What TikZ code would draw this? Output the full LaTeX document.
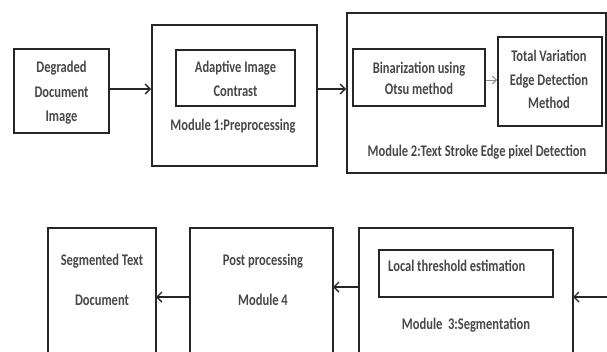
\documentclass[tikz,border=0pt]{standalone}
\usepackage{fontspec}
\usepackage{graphicx}
\setmainfont{Carlito}
\usetikzlibrary{arrows.meta}
\newcommand\vtx[2]{\scalebox{1}[1.3]{\fontsize{12.5}{#1}\selectfont\begin{tabular}{@{}c@{}}#2\end{tabular}}}
\begin{document}
\begin{tikzpicture}[x=1pt,y=-1pt,
  box/.style={draw=black!85,line width=1.8pt},
  lbl/.style={font=\bfseries,text=black!72,align=center,inner sep=0pt},
  arr/.style={draw=black!85,line width=1.4pt,-{Straight Barb[length=5pt,width=10pt,line width=1.4pt]}},
  garr/.style={draw=black!45,line width=1pt,-{Straight Barb[length=4pt,width=8pt]}}]
\useasboundingbox (0,0) rectangle (607,351);
% top row
\node[box,minimum width=95pt,minimum height=84pt,inner sep=0pt] (deg) at (61.5,91) {};
\node[lbl] at (61.5,92.5) {\vtx{18.8}{Degraded\\Document\\Image}};
\node[box,minimum width=165pt,minimum height=141pt] (m1) at (234.5,95.5) {};
\node[box,minimum width=119pt,minimum height=56pt] (aic) at (235.5,78) {};
\node[lbl] at (235.5,80) {\vtx{18.5}{Adaptive Image\\Contrast}};
\node[lbl] (m1l) at (233,127) {\vtx{15}{Module 1:Preprocessing}};
\node[box,minimum width=259pt,minimum height=160pt] (m2) at (476.5,93) {};
\node[box,minimum width=132pt,minimum height=57pt] (bin) at (419,77.5) {};
\node[lbl] at (419,80) {\vtx{15.5}{Binarization using\\Otsu method}};
\node[box,minimum width=104pt,minimum height=89pt] (tv) at (550,81.5) {};
\node[lbl] at (549,80.5) {\vtx{17.8}{Total Variation\\Edge Detection\\Method}};
\node[lbl] (m2l) at (477,153) {\vtx{15}{Module 2:Text Stroke Edge pixel Detection}};
\coordinate (d1) at (109,89);
\coordinate (d2) at (152,89);
\draw[arr] (deg.east |- d1) -- (m1.west |- d2);
\coordinate (e1) at (317,89);
\draw[arr] (m1.east |- e1) -- (m2.west |- e1);
\coordinate (f1) at (485,80);
\draw[garr] (bin.east |- f1) -- (tv.west |- f1);
% bottom row
\path[box] (48,360) -- (48,228) -- (156,228) -- (156,360);
\coordinate (seg) at (156,297);
\node[lbl] at (102,262) {\vtx{15}{Segmented Text}};
\node[lbl] at (102,302) {\vtx{15}{Document}};
\path[box] (190,360) -- (190,228) -- (333,228) -- (333,360);
\coordinate (postL) at (190,297);
\coordinate (postR) at (333,287);
\node[lbl] at (263,262) {\vtx{15}{Post processing}};
\node[lbl] at (263,302) {\vtx{15}{Module 4}};
\path[box] (359,360) -- (359,228) -- (573,228) -- (573,360);
\coordinate (m3L) at (359,287);
\coordinate (m3R) at (573,297);
\node[box,minimum width=174pt,minimum height=47pt] (lt) at (466,273.5) {};
\node[lbl,anchor=west] at (388,268) {\vtx{15}{Local threshold estimation}};
\node[lbl] (m3l) at (466,326) {\vtx{15}{Module\ \ 3:Segmentation}};
\coordinate (in3) at (610,297);
\draw[arr] (in3) -- (m3R);
\draw[arr] (m3L) -- (postR);
\draw[arr] (postL) -- (seg);
\end{tikzpicture}
\end{document}
